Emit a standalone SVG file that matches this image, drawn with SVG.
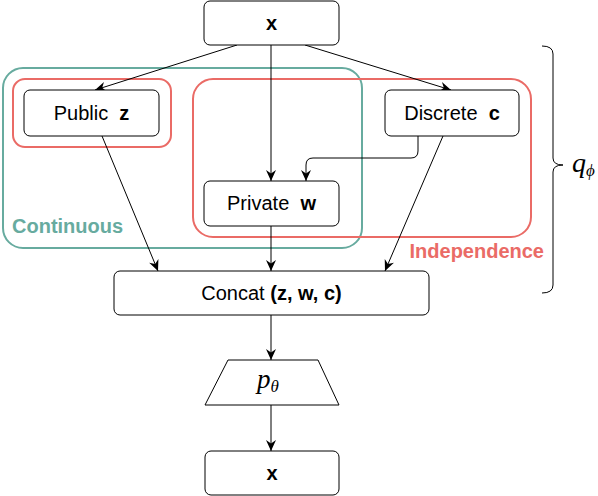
<svg xmlns="http://www.w3.org/2000/svg" width="598" height="496" viewBox="0 0 598 496">
<defs>
<style>
.node{fill:#fff;stroke:#000;stroke-width:1}
.lbl{font-family:"Liberation Sans",Arial,sans-serif;font-size:20px;fill:#000;text-anchor:middle}
.b{font-weight:bold}
.edge{fill:none;stroke:#000;stroke-width:1}
.math{font-family:"Liberation Serif","Times New Roman",serif;font-style:italic;fill:#000}
</style>
<marker id="arr" markerUnits="userSpaceOnUse" markerWidth="14" markerHeight="12" viewBox="-12 -6 14 12" refX="0" refY="0" orient="auto">
<path d="M0,0 L-11,-5 L-7.5,0 L-11,5 Z" fill="#000"/>
</marker>
</defs>
<rect width="598" height="496" fill="#fff"/>

<g id="group-continuous">
<rect x="3" y="68" width="359" height="180" rx="20" fill="none" stroke="#67AB9F" stroke-width="2"/>
<text x="12" y="233" font-family="'Liberation Sans',Arial,sans-serif" font-size="20" font-weight="bold" fill="#67AB9F">Continuous</text>
</g>
<g id="group-public">
<rect x="13" y="79" width="158" height="68" rx="12" fill="none" stroke="#EA6B66" stroke-width="2"/>
</g>
<g id="group-independence">
<rect x="193" y="79" width="338" height="158" rx="20" fill="none" stroke="#EA6B66" stroke-width="2"/>
<text x="544" y="258" text-anchor="end" font-family="'Liberation Sans',Arial,sans-serif" font-size="20" font-weight="bold" fill="#EA6B66">Independence</text>
</g>

<g id="connectors">
<line class="edge" x1="237" y1="45" x2="95" y2="90" marker-end="url(#arr)"/>
<line class="edge" x1="305" y1="45" x2="451" y2="90" marker-end="url(#arr)"/>
<line class="edge" x1="271" y1="45" x2="271" y2="181" marker-end="url(#arr)"/>
<path class="edge" d="M418,136 V151 Q418,158 411,158 H313 Q306,158 306,165 V181" stroke-width="2" marker-end="url(#arr)"/>
<line class="edge" x1="102" y1="136" x2="158" y2="271" marker-end="url(#arr)"/>
<line class="edge" x1="271" y1="226" x2="271" y2="271" marker-end="url(#arr)"/>
<line class="edge" x1="443" y1="136" x2="385" y2="271" marker-end="url(#arr)"/>
<line class="edge" x1="271" y1="315" x2="271" y2="360" marker-end="url(#arr)"/>
<line class="edge" x1="271" y1="405" x2="271" y2="451" marker-end="url(#arr)"/>
</g>

<g id="node-x-top">
<rect class="node" x="204" y="1" width="135" height="44" rx="6"/>
<text class="lbl b" x="271.5" y="30">x</text>
</g>
<g id="node-public">
<rect class="node" x="24" y="90" width="135" height="46" rx="6"/>
<text class="lbl" x="91.5" y="120">Public&#160; <tspan class="b">z</tspan></text>
</g>
<g id="node-discrete">
<rect class="node" x="385" y="90" width="134" height="46" rx="6"/>
<text class="lbl" x="452" y="120">Discrete&#160; <tspan class="b">c</tspan></text>
</g>
<g id="node-private">
<rect class="node" x="204" y="181" width="135" height="45" rx="6"/>
<text class="lbl" x="271.5" y="210">Private&#160; <tspan class="b">w</tspan></text>
</g>
<g id="node-concat">
<rect class="node" x="114" y="271" width="315" height="44" rx="6"/>
<text class="lbl" x="271.5" y="300">Concat <tspan class="b">(z, w, c)</tspan></text>
</g>
<g id="node-decoder">
<path class="node" d="M228,360 H318 L339,405 H205 Z"/>
<text class="math" x="257" y="388" font-size="27">p<tspan font-size="17" dy="4">θ</tspan></text>
</g>
<g id="node-x-bottom">
<rect class="node" x="205" y="451" width="134" height="44" rx="6"/>
<text class="lbl b" x="272" y="480">x</text>
</g>
<g id="brace-q">
<path d="M542,46 Q553,46 553,54 V158 Q553,165 563,165 Q553,165 553,172 V285 Q553,293 542,293" fill="none" stroke="#000" stroke-width="1"/>
<text class="math" x="572" y="172" font-size="28">q<tspan font-size="17" dy="4">ϕ</tspan></text>
</g>
</svg>
